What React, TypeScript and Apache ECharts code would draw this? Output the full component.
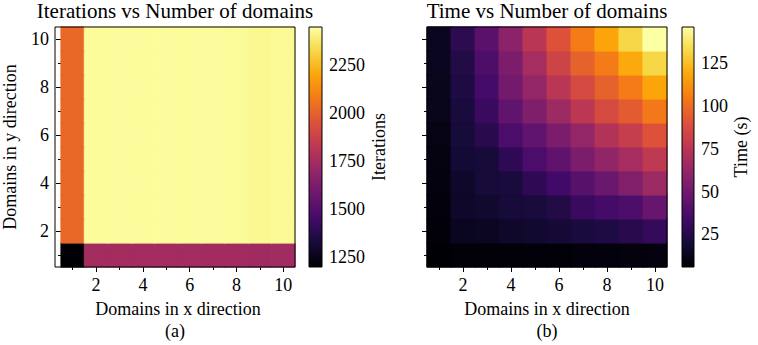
import React, { useEffect, useRef } from "react";
import * as echarts from "echarts";

const xCategories = ["1", "2", "3", "4", "5", "6", "7", "8", "9", "10"];
const yCategories = ["1", "2", "3", "4", "5", "6", "7", "8", "9", "10"];

// Iterations, rows from y=1 (bottom) to y=10 (top), columns x=1..10
const iterY1 = [1200, 1748, 1748, 1747, 1747, 1746, 1745, 1744, 1735, 1740];
const iterY2 = [2020, 2435, 2435, 2435, 2435, 2435, 2435, 2432, 2420, 2428];
const iterY3 = [2020, 2435, 2435, 2435, 2435, 2435, 2435, 2432, 2420, 2428];
const iterY4 = [2020, 2435, 2435, 2435, 2435, 2435, 2435, 2432, 2420, 2428];
const iterY5 = [2020, 2435, 2435, 2435, 2435, 2435, 2435, 2432, 2420, 2428];
const iterY6 = [2020, 2435, 2435, 2435, 2435, 2435, 2435, 2432, 2420, 2428];
const iterY7 = [2020, 2435, 2435, 2435, 2435, 2435, 2435, 2432, 2420, 2428];
const iterY8 = [2020, 2435, 2435, 2435, 2435, 2435, 2435, 2432, 2420, 2428];
const iterY9 = [2020, 2435, 2435, 2435, 2435, 2435, 2435, 2432, 2420, 2428];
const iterY10 = [2020, 2435, 2435, 2435, 2435, 2435, 2435, 2432, 2420, 2428];
const iterRows = [iterY1, iterY2, iterY3, iterY4, iterY5, iterY6, iterY7, iterY8, iterY9, iterY10];

// Time (s), rows from y=1 (bottom) to y=10 (top), columns x=1..10
const timeY1 = [6, 7, 7, 7.2, 7.5, 7.5, 8, 8, 8.5, 9];
const timeY2 = [7.5, 13, 14, 16, 17, 19, 21, 23, 26, 30];
const timeY3 = [8, 16, 17, 20, 21, 24, 31, 35, 38, 47];
const timeY4 = [9, 16, 20, 21, 28, 34, 41, 48, 56, 65];
const timeY5 = [9.5, 19, 20, 28, 37, 44, 54, 61, 68, 77];
const timeY6 = [10, 20, 26, 37, 45, 54, 62, 73, 80, 90];
const timeY7 = [12, 21, 31, 45, 55, 65, 76, 86, 94, 104];
const timeY8 = [12, 23, 35, 51, 62, 75, 86, 96, 105, 118];
const timeY9 = [13, 24, 38, 54, 68, 83, 96, 105, 119, 132];
const timeY10 = [13, 27, 42, 59, 75, 90, 105, 118, 132, 146];
const timeRows = [timeY1, timeY2, timeY3, timeY4, timeY5, timeY6, timeY7, timeY8, timeY9, timeY10];

const iterRange = [1200, 2445];
const timeRange = [6, 146];
const iterTicks = [1250, 1500, 1750, 2000, 2250];
const timeTicks = [25, 50, 75, 100, 125];

const inferno = [
  "#000004", "#160b39", "#420a68", "#6a176e", "#932667", "#bc3754",
  "#dd513a", "#f37819", "#fca50a", "#f6d746", "#fcffa4",
];

const FONT = "Liberation Serif";
const FS = 18;

const G0 = { left: 55, top: 27, width: 240, height: 240 };
const G1 = { left: 427, top: 27, width: 240, height: 240 };
const C0 = { left: 309, top: 27, width: 13, height: 240 };
const C1 = { left: 682, top: 27, width: 12, height: 240 };

function toCells(rows: number[][], range: number[]) {
  const out: any[] = [];
  rows.forEach((row, yi) =>
    row.forEach((v, xi) => {
      const t = Math.min(1, Math.max(0, (v - range[0]) / (range[1] - range[0])));
      out.push({
        value: [xi, yi, v],
        itemStyle: { borderColor: echarts.color.lerp(t, inferno), borderWidth: 0.6 },
      });
    })
  );
  return out;
}

const txt = { fontFamily: FONT, fontSize: FS, color: "#000" };

function catAxis(gridIndex: number, data: string[], position: string, major: boolean, labels: boolean, margin: number, name?: string, nameGap?: number) {
  return {
    type: "category",
    gridIndex,
    data,
    position,
    axisLine: { show: false },
    splitLine: { show: false },
    axisTick: {
      show: true,
      alignWithLabel: true,
      interval: major ? (i: number) => i % 2 === 1 : (i: number) => i % 2 === 0,
      length: major ? 5 : 3,
      lineStyle: { color: "#000", width: 1 },
    },
    axisLabel: {
      show: labels,
      interval: (i: number) => i % 2 === 1,
      margin,
      fontFamily: FONT,
      fontSize: FS,
      color: "#000",
    },
    name: name || "",
    nameLocation: "middle",
    nameGap: nameGap || 0,
    nameMoveOverlap: false,
    nameTextStyle: { ...txt },
  };
}

function barAxisY(gridIndex: number, range: number[], ticks: number[], name: string, nameGap: number) {
  return {
    type: "value",
    gridIndex,
    position: "right",
    min: range[0],
    max: range[1],
    axisLine: { show: false },
    splitLine: { show: false },
    axisTick: { show: true, customValues: ticks, length: 4, lineStyle: { color: "#000" } },
    axisLabel: {
      show: true,
      customValues: ticks,
      margin: 7,
      formatter: (v: number) => String(v),
      fontFamily: FONT,
      fontSize: FS,
      color: "#000",
    },
    name,
    nameLocation: "middle",
    nameRotate: 90,
    nameGap,
    nameMoveOverlap: false,
    nameTextStyle: { ...txt },
  };
}

function gradientStops() {
  return inferno.map((c, i) => ({ offset: i / (inferno.length - 1), color: c }));
}

function frame(g: { left: number; top: number; width: number; height: number }) {
  return {
    type: "rect",
    z: 100,
    shape: { x: g.left, y: g.top, width: g.width, height: g.height },
    style: { fill: "none", stroke: "#000", lineWidth: 1 },
    silent: true,
  };
}

function colorbar(g: { left: number; top: number; width: number; height: number }) {
  return {
    type: "rect",
    z: 90,
    shape: { x: g.left, y: g.top, width: g.width, height: g.height },
    style: {
      fill: new echarts.graphic.LinearGradient(0, 1, 0, 0, gradientStops()),
      stroke: "#000",
      lineWidth: 1,
    },
    silent: true,
  };
}

function label(text: string, x: number, y: number, size: number) {
  return {
    type: "text",
    x,
    y,
    z: 100,
    style: {
      text,
      fill: "#000",
      fontFamily: FONT,
      fontSize: size,
      align: "center",
      verticalAlign: "middle",
      textAlign: "center",
      textVerticalAlign: "middle",
    },
  };
}

export default function App() {
  const ref = useRef<HTMLDivElement>(null);
  useEffect(() => {
    document.body.style.margin = "0";
    const chart = echarts.init(ref.current!, null, { renderer: "svg" });
    const option: any = {
      animation: false,
      textStyle: { fontFamily: FONT },
      grid: [
        { ...G0, containLabel: false },
        { ...G1, containLabel: false },
        { ...C0, containLabel: false },
        { ...C1, containLabel: false },
      ],
      xAxis: [
        catAxis(0, xCategories, "bottom", true, true, 9, "Domains in x direction", 33),
        catAxis(0, xCategories, "bottom", false, false, 9),
        catAxis(1, xCategories, "bottom", true, true, 9, "Domains in x direction", 33),
        catAxis(1, xCategories, "bottom", false, false, 9),
        { type: "value", gridIndex: 2, show: false, min: 0, max: 1 },
        { type: "value", gridIndex: 3, show: false, min: 0, max: 1 },
      ],
      yAxis: [
        catAxis(0, yCategories, "left", true, true, 12, "Domains in y direction", 42),
        catAxis(0, yCategories, "left", false, false, 12),
        catAxis(1, yCategories, "left", true, false, 12),
        catAxis(1, yCategories, "left", false, false, 12),
        barAxisY(2, iterRange, iterTicks, "Iterations", 48),
        barAxisY(3, timeRange, timeTicks, "Time (s)", 38),
      ],
      visualMap: [
        { type: "continuous", seriesIndex: 0, min: iterRange[0], max: iterRange[1], show: false, inRange: { color: inferno } },
        { type: "continuous", seriesIndex: 1, min: timeRange[0], max: timeRange[1], show: false, inRange: { color: inferno } },
      ],
      series: [
        {
          type: "heatmap",
          xAxisIndex: 0,
          yAxisIndex: 0,
          data: toCells(iterRows, iterRange),
          emphasis: { disabled: true },
        },
        {
          type: "heatmap",
          xAxisIndex: 2,
          yAxisIndex: 2,
          data: toCells(timeRows, timeRange),
          emphasis: { disabled: true },
        },
      ],
      graphic: [
        frame(G0),
        frame(G1),
        colorbar(C0),
        colorbar(C1),
        label("Iterations vs Number of domains", G0.left + G0.width / 2, 11, 21),
        label("Time vs Number of domains", G1.left + G1.width / 2, 11, 21),
        label("(a)", G0.left + G0.width / 2, 331, FS),
        label("(b)", G1.left + G1.width / 2, 331, FS),
      ],
    };
    chart.setOption(option);
    return () => chart.dispose();
  }, []);
  return <div ref={ref} style={{ width: 758, height: 345 }} />;
}
